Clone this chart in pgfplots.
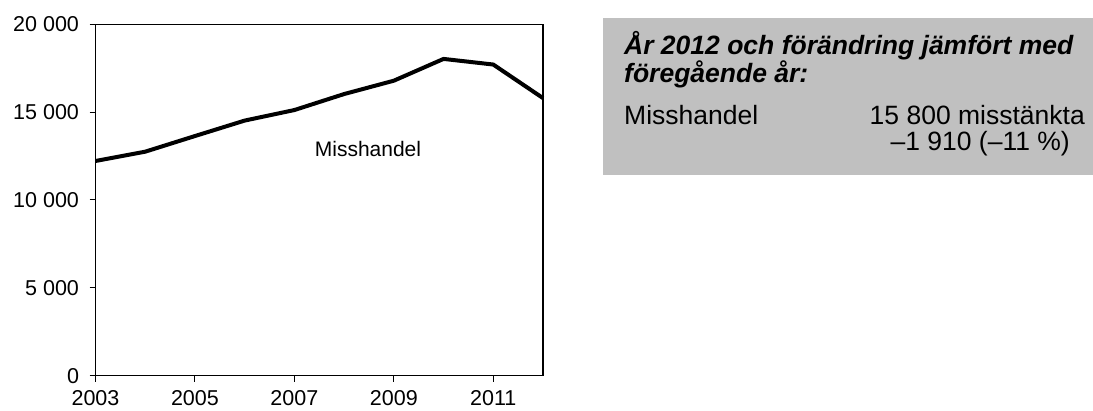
\documentclass[border=0pt]{standalone}
\usepackage{fontspec}
\setmainfont{Liberation Sans}
\usepackage{pgfplots}
\pgfplotsset{compat=1.18}
\definecolor{boxgray}{RGB}{192,192,192}

\begin{document}
\begin{tikzpicture}[x=1pt,y=1pt]
\path[use as bounding box] (0,0) rectangle (1093,410);

% info box on the right
\fill[boxgray] (603,235) rectangle (1093,391.5);
\begin{scope}[every node/.style={inner sep=0pt, font=\fontsize{26.5}{30}\selectfont}]
\node[anchor=base west] at (624,355) {\bfseries\itshape År 2012 och förändring jämfört med};
\node[anchor=base west] at (624,327) {\bfseries\itshape föregående år:};
\node[anchor=base west] at (624,285.7) {Misshandel};
\node[anchor=base east] at (1085,285.7) {15 800 misstänkta};
\node[anchor=base east] at (1070,259.5) {–1 910 (–11 \%)};
\end{scope}

\begin{axis}[
    at={(95.5pt,34.3pt)}, anchor=south west,
    width=447.5pt, height=351.4pt, scale only axis,
    xmin=2003, xmax=2012, ymin=0, ymax=20000,
    xtick={2003,2005,2007,2009,2011},
    ytick={0,5000,10000,15000,20000},
    tick align=outside, xtick pos=left, ytick pos=left,
    major tick length=6pt,
    axis line style={line width=1.3pt},
    tick style={line width=1pt, black},
    ticklabel style={font=\fontsize{21.5}{25}\selectfont},
    /pgf/number format/assume math mode=true,
    yticklabel style={/pgf/number format/1000 sep={\ }, xshift=-7pt},
    xticklabel style={/pgf/number format/1000 sep={}, yshift=-5pt},
    scaled y ticks=false,
    clip=false,
]
\addplot[black, line width=4pt, line join=round] coordinates {
    (2003,12220) (2004,12750) (2005,13640) (2006,14520) (2007,15120)
    (2008,16030) (2009,16790) (2010,18030) (2011,17710) (2012,15800)
};
\node[anchor=base, font=\fontsize{21}{25}\selectfont] at (axis cs:2008.48,12465) {Misshandel};
\end{axis}
\end{tikzpicture}
\end{document}
